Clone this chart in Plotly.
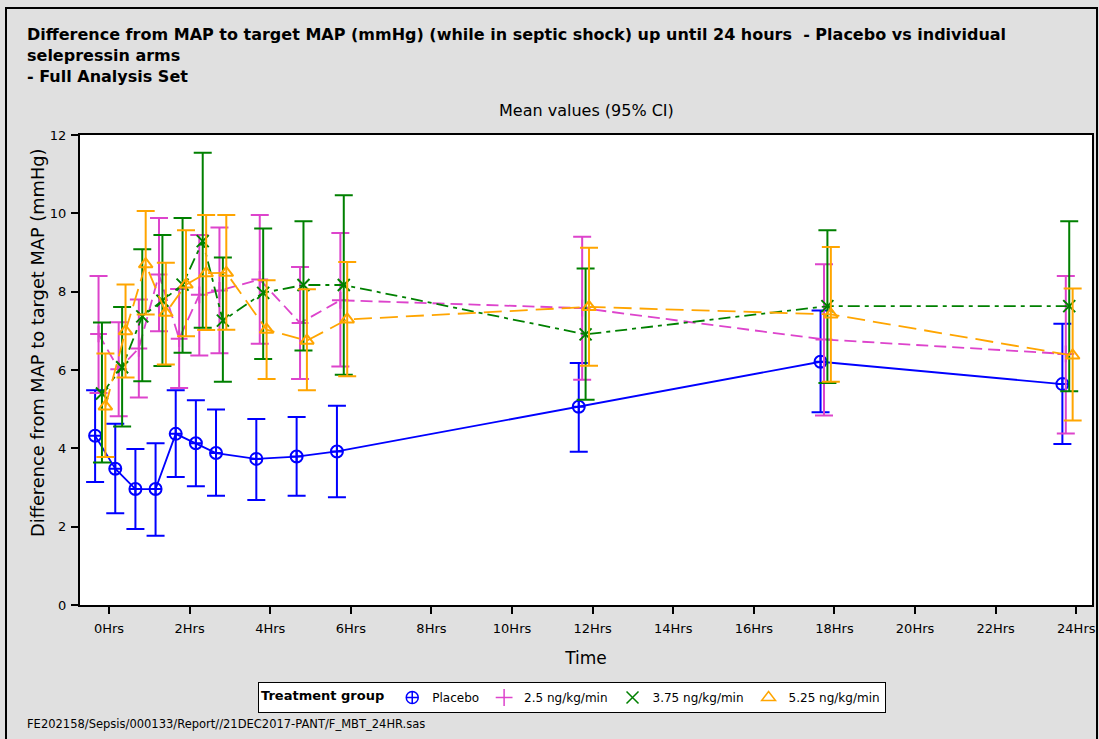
import plotly.graph_objects as go

# Nominal assessment times (hours)
times = [0, 0.5, 1, 1.5, 2, 2.5, 3, 4, 5, 6, 12, 18, 24]
tick_vals = list(range(0, 25, 2))
tick_text = [f"{v}Hrs" for v in tick_vals]

groups = ["Placebo", "2.5 ng/kg/min", "3.75 ng/kg/min", "5.25 ng/kg/min"]

# Mean and 95% CI limits per treatment group
placebo_mean = [4.32, 3.48, 2.96, 2.96, 4.37, 4.13, 3.88, 3.73, 3.79, 3.92, 5.06, 6.21, 5.64]
placebo_upper = [5.48, 4.63, 3.98, 4.13, 5.48, 5.23, 4.99, 4.75, 4.80, 5.09, 6.18, 7.52, 7.18]
placebo_lower = [3.14, 2.34, 1.94, 1.77, 3.27, 3.03, 2.79, 2.68, 2.79, 2.75, 3.91, 4.92, 4.11]

d25_mean = [6.92, 6.02, 6.55, 8.44, 6.80, 7.92, 8.03, 8.31, 7.20, 7.78, 7.58, 6.78, 6.41]
d25_upper = [8.40, 7.22, 7.80, 9.88, 8.07, 9.45, 9.64, 9.96, 8.63, 9.50, 9.40, 8.70, 8.40]
d25_lower = [5.41, 4.82, 5.30, 6.99, 5.54, 6.37, 6.43, 6.67, 5.77, 6.09, 5.75, 4.84, 4.38]

d375_mean = [5.40, 6.07, 7.37, 7.77, 8.18, 9.29, 7.26, 7.97, 8.17, 8.17, 6.91, 7.63, 7.63]
d375_upper = [7.21, 7.61, 9.08, 9.45, 9.88, 11.55, 8.87, 9.61, 9.80, 10.46, 8.59, 9.57, 9.80]
d375_lower = [3.64, 4.56, 5.71, 6.10, 6.44, 7.08, 5.70, 6.28, 6.50, 5.88, 5.24, 5.67, 5.46]

d525_mean = [5.07, 6.99, 8.70, 7.46, 8.18, 8.47, 8.48, 7.03, 6.75, 7.29, 7.61, 7.42, 6.37]
d525_upper = [6.42, 8.18, 10.06, 8.74, 9.57, 9.96, 9.96, 8.29, 8.06, 8.76, 9.12, 9.14, 8.08]
d525_lower = [3.78, 5.81, 7.42, 6.14, 6.86, 7.02, 7.03, 5.77, 5.48, 5.84, 6.11, 5.70, 4.71]

means = [placebo_mean, d25_mean, d375_mean, d525_mean]
uppers = [placebo_upper, d25_upper, d375_upper, d525_upper]
lowers = [placebo_lower, d25_lower, d375_lower, d525_lower]

# Cluster offsets so the groups do not overlap at a time point
offsets = [-0.345, -0.26, -0.175, -0.09]
colors = ["#0000FF", "#DD44CC", "#008000", "#FFA500"]
symbols = ["circle-cross-open", "cross-thin-open", "x-thin-open", "triangle-up-open"]
dashes = ["solid", "12px,6px", "12px,5px,4px,5px", "18px,8px"]

fig = go.Figure()

for g in range(4):
    xs = [t + offsets[g] for t in times]
    fig.add_trace(go.Scatter(
        x=xs, y=means[g], mode="lines+markers", name=groups[g], showlegend=False,
        line=dict(color=colors[g], width=1.8, dash=dashes[g]),
        marker=dict(symbol=symbols[g], size=12, color=colors[g],
                    line=dict(color=colors[g], width=2)),
        error_y=dict(type="data", symmetric=False,
                     array=[u - m for u, m in zip(uppers[g], means[g])],
                     arrayminus=[m - l for m, l in zip(means[g], lowers[g])],
                     color=colors[g], thickness=2, width=9),
    ))

# Marker-only legend entries
for g in range(4):
    fig.add_trace(go.Scatter(
        x=[None], y=[None], mode="markers", name=groups[g], showlegend=True,
        marker=dict(symbol=symbols[g], size=12, color=colors[g],
                    line=dict(color=colors[g], width=1.5)),
    ))

font_main = "DejaVu Sans"
PW, PH = 1012, 470  # plot area size in px


def px_x(px):
    return (px - 80) / PW


def px_y(py):
    return (605 - py) / PH


fig.update_layout(
    width=1099, height=739,
    margin=dict(l=80, r=7, t=135, b=134),
    paper_bgcolor="#E0E0E0", plot_bgcolor="white",
    font=dict(family=font_main, color="black", size=13),
    showlegend=True,
    legend=dict(
        orientation="h", x=px_x(572), xanchor="center", y=px_y(682), yanchor="top",
        bgcolor="white", bordercolor="black", borderwidth=1,
        font=dict(size=12), itemwidth=30, tracegroupgap=0,
        title=dict(text="<b>Treatment group</b>", font=dict(size=13)),
    ),
    xaxis=dict(
        range=[-0.72, 24.39], tickvals=tick_vals, ticktext=tick_text,
        showgrid=False, zeroline=False, showline=True, linecolor="black", linewidth=2,
        mirror=True, ticks="outside", ticklen=7, tickwidth=2, tickcolor="black",
        tickfont=dict(size=13), automargin=False, ticklabelstandoff=3,
        title=dict(text="Time", font=dict(size=17), standoff=18),
    ),
    yaxis=dict(
        range=[0, 12], tickvals=list(range(0, 13, 2)),
        showgrid=False, zeroline=False, showline=True, linecolor="black", linewidth=2,
        mirror=True, ticks="outside", ticklen=7, tickwidth=2, tickcolor="black",
        tickfont=dict(size=13), automargin=False, ticklabelstandoff=2,
    ),
    shapes=[dict(type="rect", xref="paper", yref="paper",
                 x0=px_x(6), x1=px_x(1097), y0=px_y(750), y1=px_y(8),
                 line=dict(color="black", width=2), fillcolor="rgba(0,0,0,0)", layer="below")],
    annotations=[
        dict(text="<b>Difference from MAP to target MAP (mmHg) (while in septic shock) up until 24 hours  - Placebo vs individual<br>selepressin arms<br>- Full Analysis Set</b>",
             xref="paper", yref="paper", x=px_x(25), y=px_y(23), xanchor="left", yanchor="top",
             align="left", showarrow=False, font=dict(size=16)),
        dict(text="Mean values (95% CI)", xref="paper", yref="paper",
             x=0.5, y=px_y(110), xanchor="center", yanchor="middle",
             showarrow=False, font=dict(size=16)),
        dict(text="Difference from MAP to target MAP (mmHg)", xref="paper", yref="paper",
             x=px_x(37), y=px_y(343), xanchor="center", yanchor="middle", textangle=-90,
             showarrow=False, font=dict(size=17.8)),
        dict(text="FE202158/Sepsis/000133/Report//21DEC2017-PANT/F_MBT_24HR.sas",
             xref="paper", yref="paper", x=px_x(25), y=px_y(724),
             xanchor="left", yanchor="middle", showarrow=False, font=dict(size=11.5)),
    ],
)

fig.write_html("out.html")
